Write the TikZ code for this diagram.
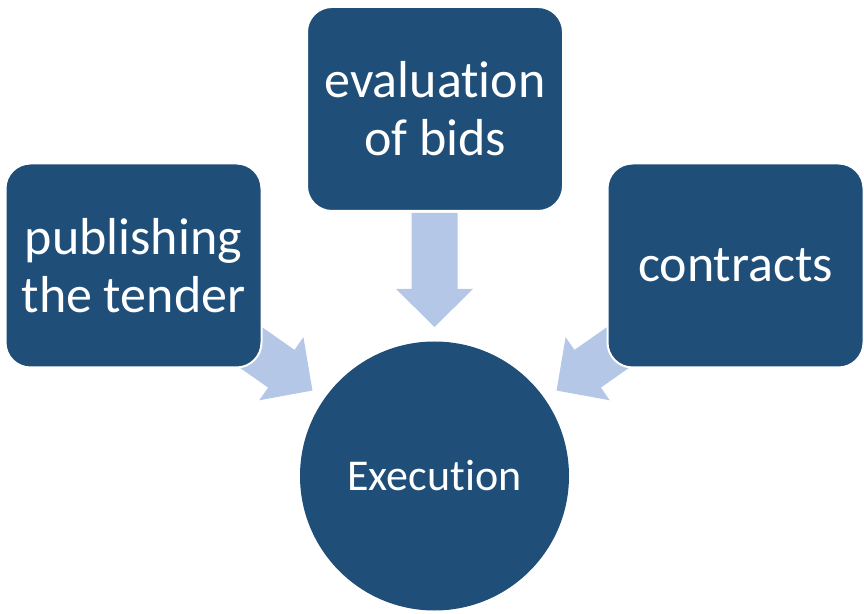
\documentclass[tikz,border=0pt]{standalone}
\usepackage{fontspec}
\setmainfont{Carlito}[RawFeature={-liga;-clig;-calt;-dlig}]
\definecolor{boxblue}{RGB}{31,78,121}
\definecolor{arrowblue}{RGB}{180,199,231}
\begin{document}
\begin{tikzpicture}[x=1pt,y=1pt,
  stagebox/.style={draw=white,line width=2pt,fill=boxblue,rounded corners=25pt,
    minimum width=256pt,minimum height=204pt,inner sep=0pt,text=white,align=center,
    font=\fontsize{52}{58}\selectfont},
  hubnode/.style={circle,fill=boxblue,minimum size=269pt,inner sep=0pt,text=white,
    font=\fontsize{44}{50}\selectfont},
  blockarrow/.style={fill=arrowblue,draw=none}]
\useasboundingbox (0,0) rectangle (864,613);
\node[hubnode] (exec) at (434.5,137) {Execut\kern0pt ion};
\foreach \ang in {90,145,35}{
  \begin{scope}[shift={(exec.center)},rotate=\ang]
    \fill[blockarrow] (263,23) -- (187,23) -- (187,38.5) -- (149,0) -- (187,-38.5) -- (187,-23) -- (263,-23) -- cycle;
  \end{scope}
}
\node[stagebox] (eval) at (435,504) {evaluat\kern0pt ion\\of bids};
\node[stagebox] (pub) at (133.5,347.5) {publishing\\the tender};
\node[stagebox] (contr) at (735.5,347.5) {contracts};
\end{tikzpicture}
\end{document}
